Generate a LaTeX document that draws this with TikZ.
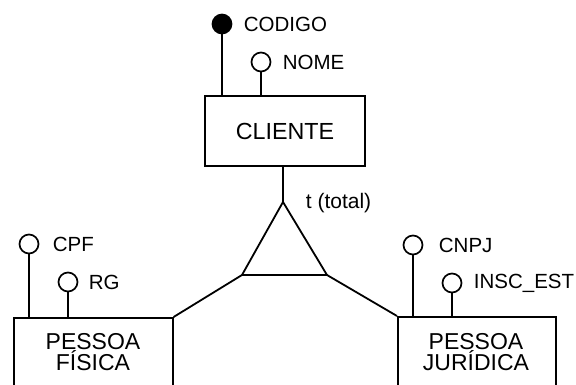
\documentclass[tikz,border=0pt]{standalone}
\usepackage{fontspec}
\setmainfont{Liberation Sans}
\begin{document}
\begin{tikzpicture}[x=1pt,y=-1pt,
  line width=1.8pt,
  entity/.style={draw, line width=1.6pt, minimum width=160pt, minimum height=70pt,
    inner sep=0pt, align=center, font=\fontsize{23.3}{21}\selectfont},
  entitytext/.style={align=center, inner sep=0pt, font=\fontsize{23}{21}\selectfont},
  attr/.style={draw, circle, line width=1.7pt, minimum size=19pt, inner sep=0pt, fill=white},
  keyattr/.style={attr, fill=black},
  attrname/.style={anchor=west, inner sep=0pt, font=\fontsize{20.5}{20}\selectfont}]
\useasboundingbox (0,0) rectangle (576,385);
\begin{scope}
\clip (0,0) rectangle (576,385);

% entities
\node[entity] (cliente) at (285,131) {CLIENTE};
\node[entity, minimum width=159pt, minimum height=80pt, anchor=north west] (pf) at (13,317) {};
\node[entity, minimum width=158pt, minimum height=80pt, anchor=north west] (pj) at (397,316) {};
\node[entitytext] (pftext) at (93,352) {PESSOA\\FÍSICA};
\node[entitytext] (pjtext) at (476,352) {PESSOA\\JURÍDICA};

% specialization triangle
\coordinate (apex) at (283,202);
\coordinate (bl) at (242,275);
\coordinate (br) at (327,275);
\draw[line join=miter] (apex) -- (bl) -- (br) -- cycle;
\draw (cliente.south -| apex) -- (apex);
\draw (bl) -- (pf.north east);
\draw (br) -- (pj.north west);
\node[attrname, font=\fontsize{21}{20}\selectfont] (total) at (305,203) {t (total)};

% attributes of CLIENTE
\node[keyattr] (codigo) at (222,24) {};
\node[attr] (nome) at (261,62) {};
\draw (codigo.south) -- (codigo |- cliente.north);
\draw (nome.south) -- (nome |- cliente.north);
\node[attrname] (codigot) at (243,24) {CODIGO};
\node[attrname] (nomet) at (282,62) {NOME};

% attributes of PESSOA FISICA
\node[attr] (cpf) at (29,244) {};
\node[attr] (rg) at (68,282) {};
\draw (cpf.south) -- (cpf |- pf.north);
\draw (rg.south) -- (rg |- pf.north);
\node[attrname] (cpft) at (52,244) {CPF};
\node[attrname] (rgt) at (88,282) {RG};

% attributes of PESSOA JURIDICA
\node[attr] (cnpj) at (413,245) {};
\node[attr] (insc) at (452,283) {};
\draw (cnpj.south) -- (cnpj |- pj.north);
\draw (insc.south) -- (insc |- pj.north);
\node[attrname] (cnpjt) at (438,245) {CNPJ};
\node[attrname] (insct) at (473,283) {INSC\_EST};
\end{scope}
\end{tikzpicture}
\end{document}
